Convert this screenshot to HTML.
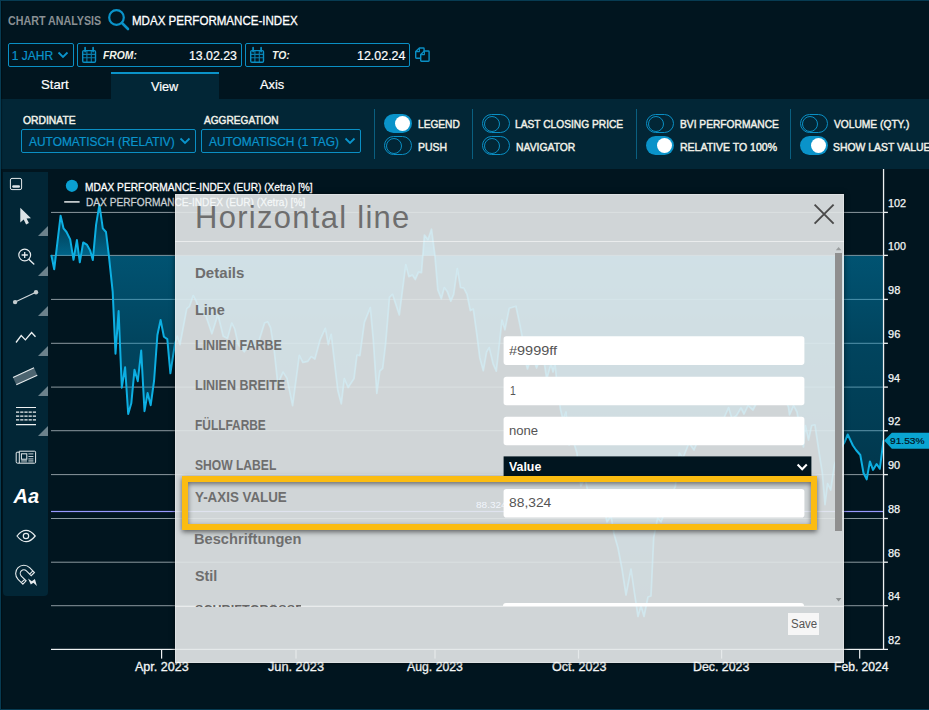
<!DOCTYPE html>
<html><head><meta charset="utf-8"><title>Chart Analysis</title>
<style>
*{box-sizing:border-box;margin:0;padding:0}
html,body{width:929px;height:710px;overflow:hidden;background:#01151f}
body{font-family:"Liberation Sans",sans-serif;color:#fff;position:relative}
.abs{position:absolute}
.frame{position:absolute;left:0;top:0;width:940px;height:710px;border:1px solid #073b52;border-right:none;pointer-events:none;z-index:50;box-shadow:inset 1px 0 1px rgba(0,0,0,.3)}
.t{position:absolute;white-space:nowrap;line-height:1;transform-origin:0 50%}
.hdr{left:8px;top:14px;font-size:13px;font-weight:bold;color:#8a9094}
.ttl{left:132px;top:14px;font-size:13px;color:#fff}
.box{position:absolute;border:1px solid #0a8fc4;border-radius:2px;height:24px;top:43px}
.tab{position:absolute;top:72px;height:27px;font-size:13px;text-align:center}
.panel{position:absolute;left:1px;top:99px;width:928px;height:70px;background:#022636}
.lbl{font-size:12px;font-weight:bold;color:#f2f2ea}
.sel{position:absolute;border:1px solid #0a8fc4;border-radius:2px;height:24px;top:129px;color:#0a94cc;font-size:13px}
.sep{position:absolute;top:109px;width:1px;height:50px;background:#0a5f80}
.tg{position:absolute;width:28px;height:19px;border-radius:10px}
.tg.on{background:#0a93c9}
.tg.on i{position:absolute;left:11px;top:2px;width:15px;height:15px;border-radius:50%;background:#fff}
.tg.off{border:1px solid #0a8fc4}
.tg.off i{position:absolute;left:.6px;top:.5px;width:16px;height:16px;border-radius:50%;border:1px solid #0a8fc4}
.tl{font-size:12px;font-weight:bold;color:#f2f2ea}
.ltb{position:absolute;left:3px;top:172px;width:45px;height:424px;background:#022636;border-radius:0 0 4px 4px}
.tri{position:absolute;left:38px;width:0;height:0;border-left:10px solid transparent;border-bottom:9px solid #6c818b}
.chart{position:absolute;left:0;top:0}
.chart text{font-family:"Liberation Sans",sans-serif}
.yl text{font-size:12px;fill:#f4f4f4}
.xl text{font-size:12px;fill:#f4f4f4;font-weight:bold}
.lg{font-size:11px}
.dlg{position:absolute;left:175px;top:194px;width:669px;height:469px;background:rgba(253,255,255,.825);color:#666;box-shadow:inset 0 0 0 1px rgba(255,255,255,.3),0 0 5px rgba(0,0,0,.55)}
.dlg .t{color:#666}
.inp{position:absolute;left:328px;width:302px;height:29px;background:#fff;border-radius:3px;font-size:12px;color:#555;line-height:29px;padding-left:6px;letter-spacing:.6px}
.fl{font-size:13px;font-weight:bold;letter-spacing:.2px}
.sec{font-size:15px;font-weight:bold}
</style></head><body>
<svg class="chart" width="929" height="710" viewBox="0 0 929 710">
<defs><linearGradient id="ag" gradientUnits="userSpaceOnUse" x1="0" y1="200" x2="0" y2="650"><stop offset="0.0000" stop-color="#008cbe" stop-opacity="0.15"/><stop offset="0.0333" stop-color="#008cbe" stop-opacity="0.24"/><stop offset="0.1229" stop-color="#008cbe" stop-opacity="0.66"/><stop offset="0.1233" stop-color="#008cbe" stop-opacity="0.52"/><stop offset="0.2222" stop-color="#008cbe" stop-opacity="0.46"/><stop offset="0.3111" stop-color="#008cbe" stop-opacity="0.4"/><stop offset="0.4222" stop-color="#008cbe" stop-opacity="0.36"/><stop offset="0.5111" stop-color="#008cbe" stop-opacity="0.33"/><stop offset="0.6222" stop-color="#008cbe" stop-opacity="0.28"/><stop offset="1.0000" stop-color="#008cbe" stop-opacity="0.15"/></linearGradient><clipPath id="co"><path clip-rule="evenodd" d="M0 0H929V710H0Z M175 194H844V663H175Z"/></clipPath><clipPath id="ci"><rect x="175" y="194" width="669" height="469"/></clipPath></defs>
<g clip-path="url(#co)"><rect x="51" y="211.9" width="832" height="1" fill="rgba(232,240,244,0.6)"/><rect x="51" y="254.9" width="832" height="1" fill="rgba(232,240,244,0.6)"/><rect x="51" y="298.9" width="832" height="1" fill="rgba(232,240,244,0.6)"/><rect x="51" y="342.8" width="832" height="1" fill="rgba(232,240,244,0.6)"/><rect x="51" y="386.6" width="832" height="1" fill="rgba(232,240,244,0.6)"/><rect x="51" y="430.2" width="832" height="1" fill="rgba(232,240,244,0.6)"/><rect x="51" y="474.1" width="832" height="1" fill="rgba(232,240,244,0.6)"/><rect x="51" y="518.0" width="832" height="1" fill="rgba(232,240,244,0.6)"/><rect x="51" y="561.7" width="832" height="1" fill="rgba(232,240,244,0.6)"/><rect x="51" y="605.2" width="832" height="1" fill="rgba(232,240,244,0.6)"/></g><g clip-path="url(#ci)" opacity=".45"><rect x="51" y="211.9" width="832" height="1" fill="rgba(232,240,244,0.6)"/><rect x="51" y="254.9" width="832" height="1" fill="rgba(232,240,244,0.6)"/><rect x="51" y="298.9" width="832" height="1" fill="rgba(232,240,244,0.6)"/><rect x="51" y="342.8" width="832" height="1" fill="rgba(232,240,244,0.6)"/><rect x="51" y="386.6" width="832" height="1" fill="rgba(232,240,244,0.6)"/><rect x="51" y="430.2" width="832" height="1" fill="rgba(232,240,244,0.6)"/><rect x="51" y="474.1" width="832" height="1" fill="rgba(232,240,244,0.6)"/><rect x="51" y="518.0" width="832" height="1" fill="rgba(232,240,244,0.6)"/><rect x="51" y="561.7" width="832" height="1" fill="rgba(232,240,244,0.6)"/><rect x="51" y="605.2" width="832" height="1" fill="rgba(232,240,244,0.6)"/></g>
<path d="M51.3 254.9 L54.2 269.3 L60.6 215.7 L63.5 228.3 L66.5 232.0 L70.2 239.4 L73.5 259.8 L76.9 240.1 L79.8 262.3 L83.2 242.4 L86.8 244.6 L90.2 250.5 L92.8 260.1 L96.1 224.6 L99.4 204.6 L102.8 228.3 L106.0 232.0 L108.7 254.2 L112.7 291.9 L115.5 353.7 L118.6 311.1 L121.8 387.7 L125.1 367.3 L128.2 414.0 L131.3 403.3 L134.5 369.7 L137.8 381.2 L141.2 350.6 L144.5 411.2 L147.6 393.0 L150.7 405.2 L154.1 380.5 L157.4 335.0 L160.6 319.9 L163.9 336.7 L167.3 339.1 L170.4 373.3 L174.9 344.0 L177.2 336.2 L180.0 344.6 L186.8 308.7 L189.6 306.3 L193.2 295.5 L196.3 301.5 L199.9 312.3 L205.9 315.9 L211.9 333.8 L217.9 314.7 L223.2 336.2 L227.5 338.6 L231.8 323.0 L234.7 329.0 L238.2 344.6 L244.2 351.8 L249.0 345.8 L257.4 345.8 L264.6 323.0 L267.7 321.8 L270.6 327.8 L274.2 350.6 L277.8 384.1 L283.0 372.1 L286.9 378.1 L292.6 405.7 L299.3 355.4 L302.9 362.5 L307.7 361.4 L311.3 356.6 L314.9 359.0 L320.0 340.2 L325.3 328.3 L328.3 344.6 L331.2 334.3 L337.8 390.5 L341.3 403.8 L344.3 378.6 L348.1 387.5 L354.0 378.6 L357.0 355.0 L359.9 355.6 L364.4 322.4 L370.3 307.6 L373.3 340.2 L376.8 393.4 L379.8 371.2 L382.7 368.3 L385.7 343.1 L389.5 297.3 L392.5 294.3 L399.3 315.0 L405.8 264.7 L408.8 276.6 L412.3 275.1 L415.3 279.5 L418.5 272.1 L421.5 272.7 L424.4 235.1 L428.0 239.6 L431.5 229.2 L434.8 254.4 L437.8 289.9 L441.3 298.8 L444.3 287.5 L447.2 291.4 L450.8 301.1 L453.7 294.3 L457.3 268.6 L460.5 287.5 L463.8 288.1 L467.0 294.3 L470.3 310.6 L473.3 309.1 L476.8 334.3 L479.8 357.9 L483.3 370.7 L486.6 352.0 L489.2 347.6 L493.1 363.8 L496.3 371.2 L502.0 320.1 L504.9 329.8 L509.3 308.2 L515.9 306.2 L520.0 325.4 L522.0 336.0 L525.0 360.0 L527.5 369.0 L530.0 361.0 L533.0 358.0 L536.6 368.0 L540.0 359.0 L544.0 361.0 L546.7 379.0 L549.0 371.0 L551.0 364.0 L553.0 372.0 L555.0 364.0 L557.0 384.0 L560.4 409.0 L563.0 420.0 L566.0 412.0 L569.0 445.0 L573.0 440.0 L576.9 453.0 L580.8 486.0 L585.0 478.0 L589.0 497.0 L594.0 490.0 L598.0 510.0 L603.0 503.0 L607.0 522.0 L611.0 516.0 L614.0 534.0 L618.0 548.0 L622.0 569.0 L626.0 595.0 L631.0 569.0 L634.0 590.0 L638.0 616.5 L641.0 606.0 L644.0 616.5 L648.0 597.0 L651.0 596.0 L653.7 537.7 L657.7 518.0 L661.0 522.0 L665.6 510.0 L670.0 498.0 L675.4 486.4 L679.3 453.0 L683.0 458.0 L689.0 443.0 L694.0 450.0 L699.0 438.0 L705.0 443.0 L710.0 432.0 L715.0 438.0 L720.7 423.4 L724.0 418.0 L728.6 407.6 L732.0 419.0 L736.5 415.5 L741.0 408.0 L744.0 414.0 L748.0 405.6 L753.0 410.0 L758.0 400.0 L763.0 404.0 L768.0 394.0 L772.0 400.0 L776.0 396.0 L781.0 402.0 L785.0 398.0 L788.5 407.5 L789.5 415.0 L793.6 405.6 L797.0 412.0 L800.0 430.0 L803.5 447.0 L805.4 425.5 L808.5 440.0 L811.7 425.5 L814.9 424.8 L819.0 452.0 L822.3 473.0 L825.0 504.7 L827.6 483.6 L830.7 490.0 L834.5 464.6 L838.0 455.0 L841.0 448.0 L844.5 442.4 L847.7 434.5 L852.9 445.5 L856.0 450.0 L860.3 455.0 L863.5 473.0 L866.7 479.4 L869.9 461.4 L873.0 469.9 L876.6 464.0 L879.8 468.8 L883.5 440.3 L883.5 255.7 L51.3 255.7 Z" fill="url(#ag)"/>
<g clip-path="url(#co)"><rect x="51" y="510.9" width="832" height="1.2" fill="#9999ff"/>
<path d="M51.3 254.9 L54.2 269.3 L60.6 215.7 L63.5 228.3 L66.5 232.0 L70.2 239.4 L73.5 259.8 L76.9 240.1 L79.8 262.3 L83.2 242.4 L86.8 244.6 L90.2 250.5 L92.8 260.1 L96.1 224.6 L99.4 204.6 L102.8 228.3 L106.0 232.0 L108.7 254.2 L112.7 291.9 L115.5 353.7 L118.6 311.1 L121.8 387.7 L125.1 367.3 L128.2 414.0 L131.3 403.3 L134.5 369.7 L137.8 381.2 L141.2 350.6 L144.5 411.2 L147.6 393.0 L150.7 405.2 L154.1 380.5 L157.4 335.0 L160.6 319.9 L163.9 336.7 L167.3 339.1 L170.4 373.3 L174.9 344.0 L177.2 336.2 L180.0 344.6 L186.8 308.7 L189.6 306.3 L193.2 295.5 L196.3 301.5 L199.9 312.3 L205.9 315.9 L211.9 333.8 L217.9 314.7 L223.2 336.2 L227.5 338.6 L231.8 323.0 L234.7 329.0 L238.2 344.6 L244.2 351.8 L249.0 345.8 L257.4 345.8 L264.6 323.0 L267.7 321.8 L270.6 327.8 L274.2 350.6 L277.8 384.1 L283.0 372.1 L286.9 378.1 L292.6 405.7 L299.3 355.4 L302.9 362.5 L307.7 361.4 L311.3 356.6 L314.9 359.0 L320.0 340.2 L325.3 328.3 L328.3 344.6 L331.2 334.3 L337.8 390.5 L341.3 403.8 L344.3 378.6 L348.1 387.5 L354.0 378.6 L357.0 355.0 L359.9 355.6 L364.4 322.4 L370.3 307.6 L373.3 340.2 L376.8 393.4 L379.8 371.2 L382.7 368.3 L385.7 343.1 L389.5 297.3 L392.5 294.3 L399.3 315.0 L405.8 264.7 L408.8 276.6 L412.3 275.1 L415.3 279.5 L418.5 272.1 L421.5 272.7 L424.4 235.1 L428.0 239.6 L431.5 229.2 L434.8 254.4 L437.8 289.9 L441.3 298.8 L444.3 287.5 L447.2 291.4 L450.8 301.1 L453.7 294.3 L457.3 268.6 L460.5 287.5 L463.8 288.1 L467.0 294.3 L470.3 310.6 L473.3 309.1 L476.8 334.3 L479.8 357.9 L483.3 370.7 L486.6 352.0 L489.2 347.6 L493.1 363.8 L496.3 371.2 L502.0 320.1 L504.9 329.8 L509.3 308.2 L515.9 306.2 L520.0 325.4 L522.0 336.0 L525.0 360.0 L527.5 369.0 L530.0 361.0 L533.0 358.0 L536.6 368.0 L540.0 359.0 L544.0 361.0 L546.7 379.0 L549.0 371.0 L551.0 364.0 L553.0 372.0 L555.0 364.0 L557.0 384.0 L560.4 409.0 L563.0 420.0 L566.0 412.0 L569.0 445.0 L573.0 440.0 L576.9 453.0 L580.8 486.0 L585.0 478.0 L589.0 497.0 L594.0 490.0 L598.0 510.0 L603.0 503.0 L607.0 522.0 L611.0 516.0 L614.0 534.0 L618.0 548.0 L622.0 569.0 L626.0 595.0 L631.0 569.0 L634.0 590.0 L638.0 616.5 L641.0 606.0 L644.0 616.5 L648.0 597.0 L651.0 596.0 L653.7 537.7 L657.7 518.0 L661.0 522.0 L665.6 510.0 L670.0 498.0 L675.4 486.4 L679.3 453.0 L683.0 458.0 L689.0 443.0 L694.0 450.0 L699.0 438.0 L705.0 443.0 L710.0 432.0 L715.0 438.0 L720.7 423.4 L724.0 418.0 L728.6 407.6 L732.0 419.0 L736.5 415.5 L741.0 408.0 L744.0 414.0 L748.0 405.6 L753.0 410.0 L758.0 400.0 L763.0 404.0 L768.0 394.0 L772.0 400.0 L776.0 396.0 L781.0 402.0 L785.0 398.0 L788.5 407.5 L789.5 415.0 L793.6 405.6 L797.0 412.0 L800.0 430.0 L803.5 447.0 L805.4 425.5 L808.5 440.0 L811.7 425.5 L814.9 424.8 L819.0 452.0 L822.3 473.0 L825.0 504.7 L827.6 483.6 L830.7 490.0 L834.5 464.6 L838.0 455.0 L841.0 448.0 L844.5 442.4 L847.7 434.5 L852.9 445.5 L856.0 450.0 L860.3 455.0 L863.5 473.0 L866.7 479.4 L869.9 461.4 L873.0 469.9 L876.6 464.0 L879.8 468.8 L883.5 440.3" fill="none" stroke="#0dafe2" stroke-width="2" stroke-linejoin="round"/></g>
<g clip-path="url(#ci)" opacity=".6"><rect x="51" y="510.9" width="832" height="1.2" fill="#9999ff"/>
<path d="M51.3 254.9 L54.2 269.3 L60.6 215.7 L63.5 228.3 L66.5 232.0 L70.2 239.4 L73.5 259.8 L76.9 240.1 L79.8 262.3 L83.2 242.4 L86.8 244.6 L90.2 250.5 L92.8 260.1 L96.1 224.6 L99.4 204.6 L102.8 228.3 L106.0 232.0 L108.7 254.2 L112.7 291.9 L115.5 353.7 L118.6 311.1 L121.8 387.7 L125.1 367.3 L128.2 414.0 L131.3 403.3 L134.5 369.7 L137.8 381.2 L141.2 350.6 L144.5 411.2 L147.6 393.0 L150.7 405.2 L154.1 380.5 L157.4 335.0 L160.6 319.9 L163.9 336.7 L167.3 339.1 L170.4 373.3 L174.9 344.0 L177.2 336.2 L180.0 344.6 L186.8 308.7 L189.6 306.3 L193.2 295.5 L196.3 301.5 L199.9 312.3 L205.9 315.9 L211.9 333.8 L217.9 314.7 L223.2 336.2 L227.5 338.6 L231.8 323.0 L234.7 329.0 L238.2 344.6 L244.2 351.8 L249.0 345.8 L257.4 345.8 L264.6 323.0 L267.7 321.8 L270.6 327.8 L274.2 350.6 L277.8 384.1 L283.0 372.1 L286.9 378.1 L292.6 405.7 L299.3 355.4 L302.9 362.5 L307.7 361.4 L311.3 356.6 L314.9 359.0 L320.0 340.2 L325.3 328.3 L328.3 344.6 L331.2 334.3 L337.8 390.5 L341.3 403.8 L344.3 378.6 L348.1 387.5 L354.0 378.6 L357.0 355.0 L359.9 355.6 L364.4 322.4 L370.3 307.6 L373.3 340.2 L376.8 393.4 L379.8 371.2 L382.7 368.3 L385.7 343.1 L389.5 297.3 L392.5 294.3 L399.3 315.0 L405.8 264.7 L408.8 276.6 L412.3 275.1 L415.3 279.5 L418.5 272.1 L421.5 272.7 L424.4 235.1 L428.0 239.6 L431.5 229.2 L434.8 254.4 L437.8 289.9 L441.3 298.8 L444.3 287.5 L447.2 291.4 L450.8 301.1 L453.7 294.3 L457.3 268.6 L460.5 287.5 L463.8 288.1 L467.0 294.3 L470.3 310.6 L473.3 309.1 L476.8 334.3 L479.8 357.9 L483.3 370.7 L486.6 352.0 L489.2 347.6 L493.1 363.8 L496.3 371.2 L502.0 320.1 L504.9 329.8 L509.3 308.2 L515.9 306.2 L520.0 325.4 L522.0 336.0 L525.0 360.0 L527.5 369.0 L530.0 361.0 L533.0 358.0 L536.6 368.0 L540.0 359.0 L544.0 361.0 L546.7 379.0 L549.0 371.0 L551.0 364.0 L553.0 372.0 L555.0 364.0 L557.0 384.0 L560.4 409.0 L563.0 420.0 L566.0 412.0 L569.0 445.0 L573.0 440.0 L576.9 453.0 L580.8 486.0 L585.0 478.0 L589.0 497.0 L594.0 490.0 L598.0 510.0 L603.0 503.0 L607.0 522.0 L611.0 516.0 L614.0 534.0 L618.0 548.0 L622.0 569.0 L626.0 595.0 L631.0 569.0 L634.0 590.0 L638.0 616.5 L641.0 606.0 L644.0 616.5 L648.0 597.0 L651.0 596.0 L653.7 537.7 L657.7 518.0 L661.0 522.0 L665.6 510.0 L670.0 498.0 L675.4 486.4 L679.3 453.0 L683.0 458.0 L689.0 443.0 L694.0 450.0 L699.0 438.0 L705.0 443.0 L710.0 432.0 L715.0 438.0 L720.7 423.4 L724.0 418.0 L728.6 407.6 L732.0 419.0 L736.5 415.5 L741.0 408.0 L744.0 414.0 L748.0 405.6 L753.0 410.0 L758.0 400.0 L763.0 404.0 L768.0 394.0 L772.0 400.0 L776.0 396.0 L781.0 402.0 L785.0 398.0 L788.5 407.5 L789.5 415.0 L793.6 405.6 L797.0 412.0 L800.0 430.0 L803.5 447.0 L805.4 425.5 L808.5 440.0 L811.7 425.5 L814.9 424.8 L819.0 452.0 L822.3 473.0 L825.0 504.7 L827.6 483.6 L830.7 490.0 L834.5 464.6 L838.0 455.0 L841.0 448.0 L844.5 442.4 L847.7 434.5 L852.9 445.5 L856.0 450.0 L860.3 455.0 L863.5 473.0 L866.7 479.4 L869.9 461.4 L873.0 469.9 L876.6 464.0 L879.8 468.8 L883.5 440.3" fill="none" stroke="#0dafe2" stroke-width="1.7" stroke-linejoin="round"/></g>
<rect x="882.9" y="168" width="1.3" height="482" fill="#eef1f2"/>
<g clip-path="url(#co)"><rect x="51" y="648.8" width="837" height="1.2" fill="#eef1f2"/><rect x="161.0" y="650" width="1.2" height="8.6" fill="#eef1f2"/><rect x="295.4" y="650" width="1.2" height="8.6" fill="#eef1f2"/><rect x="434.4" y="650" width="1.2" height="8.6" fill="#eef1f2"/><rect x="577.9" y="650" width="1.2" height="8.6" fill="#eef1f2"/><rect x="721.0" y="650" width="1.2" height="8.6" fill="#eef1f2"/><rect x="859.1" y="650" width="1.2" height="8.6" fill="#eef1f2"/></g><g clip-path="url(#ci)" opacity=".5"><rect x="51" y="648.8" width="837" height="1.2" fill="#eef1f2"/><rect x="161.0" y="650" width="1.2" height="8.6" fill="#eef1f2"/><rect x="295.4" y="650" width="1.2" height="8.6" fill="#eef1f2"/><rect x="434.4" y="650" width="1.2" height="8.6" fill="#eef1f2"/><rect x="577.9" y="650" width="1.2" height="8.6" fill="#eef1f2"/><rect x="721.0" y="650" width="1.2" height="8.6" fill="#eef1f2"/><rect x="859.1" y="650" width="1.2" height="8.6" fill="#eef1f2"/></g>
<rect x="884" y="211.75" width="3.9" height="1.3" fill="#eef1f2"/><rect x="884" y="254.75" width="3.9" height="1.3" fill="#eef1f2"/><rect x="884" y="298.75" width="3.9" height="1.3" fill="#eef1f2"/><rect x="884" y="342.65" width="3.9" height="1.3" fill="#eef1f2"/><rect x="884" y="386.45" width="3.9" height="1.3" fill="#eef1f2"/><rect x="884" y="430.05" width="3.9" height="1.3" fill="#eef1f2"/><rect x="884" y="473.95" width="3.9" height="1.3" fill="#eef1f2"/><rect x="884" y="517.85" width="3.9" height="1.3" fill="#eef1f2"/><rect x="884" y="561.55" width="3.9" height="1.3" fill="#eef1f2"/><rect x="884" y="605.05" width="3.9" height="1.3" fill="#eef1f2"/>
<path d="M884.2 440.6 L891.8 432.7 H929 V448.7 H891.8 Z" fill="#0aa5d2"/>
<circle cx="71.9" cy="185.8" r="6.1" fill="#0aa0d2"/>
<rect x="64.2" y="201.1" width="15.4" height="1.6" fill="#d8dcdd"/>
</svg>
<div class="t" style="left:888.30px;top:197.81px;font-size:10.58px;color:#f4f6f6;transform:scaleX(1.0286);-webkit-text-stroke:.25px #f4f6f6;">102</div>
<div class="t" style="left:888.29px;top:240.81px;font-size:10.58px;color:#f4f6f6;transform:scaleX(1.0104);-webkit-text-stroke:.25px #f4f6f6;">100</div>
<div class="t" style="left:887.94px;top:285.01px;font-size:10.58px;color:#f4f6f6;transform:scaleX(1.0422);-webkit-text-stroke:.25px #f4f6f6;">98</div>
<div class="t" style="left:887.93px;top:328.81px;font-size:10.58px;color:#f4f6f6;transform:scaleX(1.0425);-webkit-text-stroke:.25px #f4f6f6;">96</div>
<div class="t" style="left:887.97px;top:372.61px;font-size:10.58px;color:#f4f6f6;transform:scaleX(1.0286);-webkit-text-stroke:.25px #f4f6f6;">94</div>
<div class="t" style="left:887.93px;top:416.01px;font-size:10.58px;color:#f4f6f6;transform:scaleX(1.0510);-webkit-text-stroke:.25px #f4f6f6;">92</div>
<div class="t" style="left:887.96px;top:460.01px;font-size:10.58px;color:#f4f6f6;transform:scaleX(1.0338);-webkit-text-stroke:.25px #f4f6f6;">90</div>
<div class="t" style="left:888.18px;top:503.81px;font-size:10.58px;color:#f4f6f6;transform:scaleX(1.0352);-webkit-text-stroke:.25px #f4f6f6;">88</div>
<div class="t" style="left:888.18px;top:547.61px;font-size:10.58px;color:#f4f6f6;transform:scaleX(1.0366);-webkit-text-stroke:.25px #f4f6f6;">86</div>
<div class="t" style="left:888.19px;top:591.41px;font-size:10.58px;color:#f4f6f6;transform:scaleX(1.0196);-webkit-text-stroke:.25px #f4f6f6;">84</div>
<div class="t" style="left:888.16px;top:635.21px;font-size:10.58px;color:#f4f6f6;transform:scaleX(1.0440);-webkit-text-stroke:.25px #f4f6f6;">82</div>
<div class="t" style="left:135.07px;top:661.23px;font-size:12.32px;color:#f4f6f6;transform:scaleX(1.0198);-webkit-text-stroke:.3px #f4f6f6;">Apr. 2023</div>
<div class="t" style="left:268.21px;top:661.23px;font-size:12.32px;color:#f4f6f6;transform:scaleX(1.0348);-webkit-text-stroke:.3px #f4f6f6;">Jun. 2023</div>
<div class="t" style="left:406.55px;top:661.23px;font-size:12.32px;color:#f4f6f6;transform:scaleX(0.9957);-webkit-text-stroke:.3px #f4f6f6;">Aug. 2023</div>
<div class="t" style="left:551.62px;top:661.23px;font-size:12.32px;color:#f4f6f6;transform:scaleX(1.0180);-webkit-text-stroke:.3px #f4f6f6;">Oct. 2023</div>
<div class="t" style="left:693.35px;top:661.23px;font-size:12.32px;color:#f4f6f6;transform:scaleX(1.0041);-webkit-text-stroke:.3px #f4f6f6;">Dec. 2023</div>
<div class="t" style="left:833.95px;top:661.23px;font-size:12.32px;color:#f4f6f6;transform:scaleX(0.9843);-webkit-text-stroke:.3px #f4f6f6;">Feb. 2024</div>
<div class="t" style="left:889.90px;top:435.77px;font-size:9.57px;color:#01151f;transform:scaleX(1.0664);-webkit-text-stroke:.2px #01151f;">91.53%</div>
<div class="t" style="left:85.13px;top:181.51px;font-size:11.16px;color:#fff;transform:scaleX(0.9090);-webkit-text-stroke:.3px #fff;">MDAX PERFORMANCE-INDEX (EUR) (Xetra) [%]</div>
<div class="t" style="left:85.69px;top:197.01px;font-size:11.16px;color:#c9cfd2;transform:scaleX(0.9094);-webkit-text-stroke:.3px #c9cfd2;">DAX PERFORMANCE-INDEX (EUR) (Xetra) [%]</div>
<div class="t" style="left:475.56px;top:499.52px;font-size:9.86px;color:#bfc4e8;transform:scaleX(1.0168);">88.324</div>
<div class="frame"></div>

<!-- header -->
<svg class="abs" style="left:107.4px;top:8.4px" width="24" height="24" viewBox="0 0 24 24"><circle cx="9.5" cy="9.5" r="7.3" fill="none" stroke="#0a93c9" stroke-width="2.2"/><path d="M15 15 L21 21" stroke="#0a93c9" stroke-width="2.6" stroke-linecap="round"/></svg>

<!-- row 2 -->
<div class="box" style="left:8px;width:66px"></div>
<svg class="abs" style="left:57px;top:50px" width="12" height="10" viewBox="0 0 12 10"><path d="M1.5 2.5 L6 7 L10.5 2.5" fill="none" stroke="#0a94cc" stroke-width="1.8"/></svg>
<div class="box" style="left:77px;width:165px"></div>
<div class="box" style="left:245px;width:165px"></div>

<svg class="abs" style="left:80.5px;top:46px" width="18" height="18" viewBox="0 0 18 18"><g fill="none" stroke="#0a8fc4">
<rect x="1.7" y="4.6" width="12.8" height="11.6" rx="1.2" stroke-width="1.4"/>
<path d="M1.7 8.4 H14.5 M1.7 11.7 H14.5 M5.9 5 V16 M10.3 5 V16" stroke-width="1.1" opacity=".85"/>
<path d="M4.1 1.6 V5.6 M12.1 1.6 V5.6" stroke-width="1.7" stroke-linecap="round"/></g></svg>
<svg class="abs" style="left:248.7px;top:46px" width="18" height="18" viewBox="0 0 18 18"><g fill="none" stroke="#0a8fc4">
<rect x="1.7" y="4.6" width="12.8" height="11.6" rx="1.2" stroke-width="1.4"/>
<path d="M1.7 8.4 H14.5 M1.7 11.7 H14.5 M5.9 5 V16 M10.3 5 V16" stroke-width="1.1" opacity=".85"/>
<path d="M4.1 1.6 V5.6 M12.1 1.6 V5.6" stroke-width="1.7" stroke-linecap="round"/></g></svg>
<svg class="abs" style="left:413px;top:45px" width="20" height="20" viewBox="0 0 20 20"><g fill="#01151f" stroke="#0a8fc4" stroke-width="1.4" stroke-linejoin="round">
<path d="M2.7 6.6 L6.4 3 H10.4 Q11.1 3 11.1 3.7 V12.6 Q11.1 13.3 10.4 13.3 H3.4 Q2.7 13.3 2.7 12.6 Z"/><path d="M2.9 6.6 H6.4 V3.2" fill="none" stroke-width="1.1"/>
<path d="M7.7 9.6 L11.4 6 H15.4 Q16.1 6 16.1 6.7 V15.6 Q16.1 16.3 15.4 16.3 H8.4 Q7.7 16.3 7.7 15.6 Z"/><path d="M7.9 9.6 H11.4 V6.2" fill="none" stroke-width="1.1"/></g></svg>
<!-- tabs -->
<div class="tab" style="left:111px;width:108px;background:#022636;border-top:2px solid #0a93c9"></div>

<!-- panel -->
<div class="panel"></div>
<div class="sel" style="left:21px;width:175px"></div>
<div class="sel" style="left:201px;width:160px"></div>
<svg class="abs" style="left:179px;top:136px" width="12" height="10" viewBox="0 0 12 10"><path d="M1.5 2.5 L6 7 L10.5 2.5" fill="none" stroke="#0a94cc" stroke-width="1.8"/></svg>
<svg class="abs" style="left:344px;top:136px" width="12" height="10" viewBox="0 0 12 10"><path d="M1.5 2.5 L6 7 L10.5 2.5" fill="none" stroke="#0a94cc" stroke-width="1.8"/></svg>
<div class="sep" style="left:374px"></div>
<div class="sep" style="left:472px"></div>
<div class="sep" style="left:636px"></div>
<div class="sep" style="left:790px"></div>
<div class="tg on" style="left:384px;top:114px"><i></i></div>
<div class="tg off" style="left:384px;top:136px"><i></i></div>
<div class="tg off" style="left:482px;top:114px"><i></i></div>
<div class="tg off" style="left:482px;top:136px"><i></i></div>
<div class="tg off" style="left:646px;top:114px"><i></i></div>
<div class="tg on" style="left:646px;top:136px"><i></i></div>
<div class="tg off" style="left:800px;top:114px"><i></i></div>
<div class="tg on" style="left:800px;top:136px"><i></i></div>

<div class="t" style="left:8.05px;top:15.21px;font-size:12.46px;color:#8a9094;font-weight:bold;transform:scaleX(0.8596);">CHART ANALYSIS</div>
<div class="t" style="left:131.78px;top:15.21px;font-size:12.46px;color:#fff;transform:scaleX(0.9278);-webkit-text-stroke:.3px #fff;">MDAX PERFORMANCE-INDEX</div>
<div class="t" style="left:11.71px;top:50.27px;font-size:12.03px;color:#0a94cc;-webkit-text-stroke:.2px #0a94cc;">1 JAHR</div>
<div class="t" style="left:103.18px;top:51.03px;font-size:10.43px;color:#f2f2ea;font-weight:bold;font-style:italic;transform:scaleX(0.9906);">FROM:</div>
<div class="t" style="left:188.89px;top:50.27px;font-size:12.03px;color:#fff;transform:scaleX(1.0244);-webkit-text-stroke:.2px #fff;">13.02.23</div>
<div class="t" style="left:271.58px;top:51.03px;font-size:10.43px;color:#f2f2ea;font-weight:bold;font-style:italic;transform:scaleX(0.9945);">TO:</div>
<div class="t" style="left:357.29px;top:50.27px;font-size:12.03px;color:#fff;transform:scaleX(1.0354);-webkit-text-stroke:.2px #fff;">12.02.24</div>
<div class="t" style="left:41.38px;top:78.12px;font-size:13.04px;color:#fff;transform:scaleX(1.0086);-webkit-text-stroke:.2px #fff;">Start</div>
<div class="t" style="left:151.17px;top:79.62px;font-size:13.04px;color:#fff;transform:scaleX(0.9741);-webkit-text-stroke:.2px #fff;">View</div>
<div class="t" style="left:260.45px;top:78.12px;font-size:13.04px;color:#fff;transform:scaleX(0.9825);-webkit-text-stroke:.2px #fff;">Axis</div>
<div class="t" style="left:23.33px;top:115.44px;font-size:11.01px;color:#f2f2ea;transform:scaleX(0.9395);-webkit-text-stroke:.45px #f2f2ea;">ORDINATE</div>
<div class="t" style="left:203.96px;top:115.44px;font-size:11.01px;color:#f2f2ea;transform:scaleX(0.9197);-webkit-text-stroke:.45px #f2f2ea;">AGGREGATION</div>
<div class="t" style="left:28.99px;top:136.01px;font-size:12.46px;color:#0a94cc;transform:scaleX(0.9578);-webkit-text-stroke:.2px #0a94cc;">AUTOMATISCH (RELATIV)</div>
<div class="t" style="left:209.05px;top:136.01px;font-size:12.46px;color:#0a94cc;transform:scaleX(0.9543);-webkit-text-stroke:.2px #0a94cc;">AUTOMATISCH (1 TAG)</div>
<div class="t" style="left:417.56px;top:119.15px;font-size:11.59px;color:#f2f2ea;transform:scaleX(0.8775);-webkit-text-stroke:.45px #f2f2ea;">LEGEND</div>
<div class="t" style="left:418.35px;top:141.95px;font-size:11.59px;color:#f2f2ea;transform:scaleX(0.9077);-webkit-text-stroke:.45px #f2f2ea;">PUSH</div>
<div class="t" style="left:514.78px;top:119.15px;font-size:11.59px;color:#f2f2ea;transform:scaleX(0.8816);-webkit-text-stroke:.45px #f2f2ea;">LAST CLOSING PRICE</div>
<div class="t" style="left:515.67px;top:141.95px;font-size:11.59px;color:#f2f2ea;transform:scaleX(0.8952);-webkit-text-stroke:.45px #f2f2ea;">NAVIGATOR</div>
<div class="t" style="left:679.68px;top:119.15px;font-size:11.59px;color:#f2f2ea;transform:scaleX(0.8837);-webkit-text-stroke:.45px #f2f2ea;">BVI PERFORMANCE</div>
<div class="t" style="left:679.56px;top:141.95px;font-size:11.59px;color:#f2f2ea;transform:scaleX(0.9080);-webkit-text-stroke:.45px #f2f2ea;">RELATIVE TO 100%</div>
<div class="t" style="left:834.24px;top:119.15px;font-size:11.59px;color:#f2f2ea;transform:scaleX(0.8831);-webkit-text-stroke:.45px #f2f2ea;">VOLUME (QTY.)</div>
<div class="t" style="left:833.20px;top:141.95px;font-size:11.59px;color:#f2f2ea;transform:scaleX(0.8993);-webkit-text-stroke:.45px #f2f2ea;">SHOW LAST VALUE</div>
<!-- left toolbar -->
<div class="ltb"></div>
<svg class="abs" style="left:0;top:0" width="60" height="710" viewBox="0 0 60 710">
<g fill="#6c818b">
<path d="M38 236 H48 V226 Z"/><path d="M38 276 H48 V266 Z"/><path d="M38 316 H48 V306 Z"/><path d="M38 356 H48 V346 Z"/><path d="M38 396 H48 V386 Z"/><path d="M38 436 H48 V426 Z"/>
</g>
<!-- minimize -->
<rect x="10.4" y="178.4" width="11.2" height="11.2" rx="1.6" fill="none" stroke="#e6ebed" stroke-width="1"/>
<rect x="12.2" y="185.2" width="7.8" height="2.6" rx="1.2" fill="#dfe5e8"/>
<!-- cursor -->
<path d="M20.3 207.8 L20.3 222.6 L23.7 219.6 L26.1 224.4 L28.9 223.1 L26.6 218.5 L31 218.3 Z" fill="#dde3e6"/>
<!-- zoom -->
<circle cx="24.7" cy="255" r="5.9" fill="none" stroke="#e6ebed" stroke-width="1.2"/>
<path d="M21.6 255 H27.8 M24.7 251.9 V258.1" stroke="#e6ebed" stroke-width="1.3" fill="none"/>
<path d="M29 259.5 L33.8 264" stroke="#e6ebed" stroke-width="1.4" stroke-linecap="round"/>
<!-- line -->
<path d="M15.1 302.1 L36 292.3" stroke="#d3dadd" stroke-width="1.1"/>
<circle cx="15.1" cy="302.1" r="2.2" fill="#c4cccf"/><circle cx="36" cy="292.3" r="2.2" fill="#c4cccf"/>
<!-- zigzag -->
<path d="M16 342.5 L21.2 335.6 L25.4 339.9 L31.6 332.5 L35.5 336.8" fill="none" stroke="#eef1f2" stroke-width="1.3" stroke-linejoin="miter"/>
<!-- channel -->
<path d="M13 377.6 L34 367.7 L37.3 375.3 L16.3 384.7 Z" fill="#4c6470"/>
<path d="M13 377.6 L34 367.7 M16.3 384.7 L37.3 375.3" stroke="#e6ebed" stroke-width="1.1"/>
<!-- grid -->
<path d="M16 407.5 H36 M16 424.6 H36" stroke="#eef1f2" stroke-width="1.2"/>
<path d="M16 412.1 H36 M16 416.2 H36 M16 419.9 H36" stroke="#eef1f2" stroke-width="1.3" stroke-dasharray="3.2 1"/>
<!-- news -->
<g fill="none" stroke="#e6ebed" stroke-width="1">
<path d="M19.3 451.2 H34.6 Q35.6 451.2 35.6 452.2 V462.2 Q35.6 463.2 34.6 463.2 H17.5 Q16.2 463.2 16.2 461.8 V453 Q16.2 452.2 17 452.2 H19.3 Z"/>
<path d="M19.3 452 V463"/>
<rect x="21.4" y="453.8" width="5.4" height="5.4"/>
<path d="M28.4 453.9 H33.4 M28.4 456.5 H33.4 M28.4 458.9 H33.4" opacity=".85"/><path d="M21.2 460.4 H27 M28.4 460.4 H33.4 M21.2 461.8 H27 M28.4 461.8 H33.4" opacity=".6"/>
</g>

<!-- eye -->
<path d="M17 536 Q26 524.6 35.2 536 Q26 547.4 17 536 Z" fill="none" stroke="#e6ebed" stroke-width="1.2"/>
<circle cx="26" cy="536" r="2.7" fill="none" stroke="#e6ebed" stroke-width="1.2"/>
<!-- magnet -->
<g transform="translate(23.85 573.5) rotate(-45)" fill="none" stroke="#e6ebed" stroke-width="1.1">
<path d="M-8.2 6.8 V0 A8.2 8.2 0 0 1 8.2 0 V6.8 H3.6 V0 A3.6 3.6 0 0 0 -3.6 0 V6.8 Z M-8.2 4.6 H-3.6 M3.6 4.6 H8.2"/>
</g>
<path d="M28 578.5 L31.8 581.3 L34.9 579 L36.9 586.1 L33.4 582.8 L30.8 584.6 Z" fill="#e6ebed"/>
</svg>

<div class="t" style="left:13.49px;top:485.60px;font-size:20.0px;color:#fff;font-weight:bold;font-style:italic;">Aa</div>

<!-- dialog -->
<div class="dlg">
<div class="abs" style="left:0;top:47px;width:669px;height:1px;background:rgba(255,255,255,.55)"></div>
<div class="abs" style="left:0;top:412px;width:669px;height:1px;background:rgba(255,255,255,.5)"></div>
<svg class="abs" style="left:637px;top:8px" width="24" height="24" viewBox="0 0 24 24"><path d="M2.6 2.6 L21.6 21.6 M21.6 2.6 L2.6 21.6" stroke="#4a4a4a" stroke-width="1.9" fill="none"/></svg>
<svg class="abs" style="left:0;top:0" width="669" height="469" viewBox="0 0 669 469"><rect x="328.6" y="142.3" width="300.8" height="28.6" rx="2.8" fill="#fff"/><rect x="328.6" y="182.7" width="300.8" height="28.6" rx="2.8" fill="#fff"/><rect x="328.6" y="222.7" width="300.8" height="28.6" rx="2.8" fill="#fff"/><rect x="328.6" y="294.9" width="300.8" height="28.6" rx="2.8" fill="#fff"/><rect x="328.6" y="262.4" width="307.8" height="21" fill="#01151f"/><path d="M622.6 270.6 l4.6 4.6 l4.6 -4.6" fill="none" stroke="#fff" stroke-width="2.1"/></svg>
<div class="abs" style="left:328.4px;top:409.2px;width:301px;height:3.3px;background:#fff;border-radius:3px 3px 0 0"></div>
<div class="abs" style="left:20px;top:410.4px;width:106px;height:2.4px;overflow:hidden"><div class="t" style="left:0;top:-1.6px;font-size:13px;font-weight:bold;color:#666;transform:scaleX(.97)">SCHRIFTGRÖSSE</div></div>
<div class="abs" style="left:660.1px;top:59px;width:6.9px;height:278px;background:#8f8f8f"></div>
<svg class="abs" style="left:659px;top:50px" width="10" height="8" viewBox="0 0 10 8"><path d="M1.8 6.3 H7.4 L4.6 2.9 Z" fill="#999c9d"/></svg>
<svg class="abs" style="left:659px;top:402px" width="10" height="8" viewBox="0 0 10 8"><path d="M1.8 2 H7.4 L4.6 5.4 Z" fill="#8d9192"/></svg>
<div class="abs" style="left:613px;top:419px;width:31px;height:22px;background:#f6f6f6"></div>
<div class="abs" style="left:7px;top:282px;width:635px;height:54px;border:6px solid #fbbc11;box-shadow:0 2px 5px rgba(0,0,0,.55), inset 0 2px 5px rgba(0,0,0,.5)"></div>
<div class="t" style="left:19.69px;top:8.69px;font-size:30.72px;color:#6e6e6e;letter-spacing:1.3px;transform:scaleX(1.0068);">Horizontal line</div>
<div class="t" style="left:19.62px;top:72.00px;font-size:14px;color:#6e6e6e;font-weight:bold;transform:scale(1.0754,1.0714);">Details</div>
<div class="t" style="left:19.78px;top:109.00px;font-size:14px;color:#6e6e6e;font-weight:bold;transform:scale(1.0347,1.0510);">Line</div>
<div class="t" style="left:19.80px;top:145.56px;font-size:12.4px;color:#6e6e6e;font-weight:bold;transform:scale(1.0092,1.1290);">LINIEN FARBE</div>
<div class="t" style="left:19.80px;top:185.66px;font-size:12.4px;color:#6e6e6e;font-weight:bold;transform:scale(1.0078,1.1290);">LINIEN BREITE</div>
<div class="t" style="left:19.92px;top:226.46px;font-size:12.4px;color:#6e6e6e;font-weight:bold;transform:scale(0.9613,1.1175);">FÜLLFARBE</div>
<div class="t" style="left:19.52px;top:266.36px;font-size:12.4px;color:#6e6e6e;font-weight:bold;transform:scale(0.9760,1.1290);">SHOW LABEL</div>
<div class="t" style="left:19.71px;top:298.26px;font-size:12.4px;color:#6e6e6e;font-weight:bold;transform:scale(1.0780,1.1060);">Y-AXIS VALUE</div>
<div class="t" style="left:19.17px;top:338.20px;font-size:14px;color:#6e6e6e;font-weight:bold;transform:scale(1.0462,1.0714);">Beschriftungen</div>
<div class="t" style="left:19.98px;top:374.80px;font-size:14px;color:#6e6e6e;font-weight:bold;transform:scale(1.0222,1.0612);">Stil</div>
<div class="t" style="left:333.72px;top:151.44px;font-size:12.3px;color:#555;transform:scaleX(1.1776);">#9999ff</div>
<div class="t" style="left:334.55px;top:191.35px;font-size:12.3px;color:#555;transform:scaleX(0.8500);">1</div>
<div class="t" style="left:334.17px;top:231.35px;font-size:12.3px;color:#555;transform:scaleX(1.0657);">none</div>
<div class="t" style="left:333.52px;top:266.22px;font-size:13.04px;color:#fff;font-weight:bold;transform:scaleX(0.9475);">Value</div>
<div class="t" style="left:334.42px;top:303.44px;font-size:12.3px;color:#555;transform:scaleX(1.1252);">88,324</div>
<div class="t" style="left:616.26px;top:423.84px;font-size:12.3px;color:#555;transform:scaleX(0.9328);">Save</div>
</div>
</body></html>
